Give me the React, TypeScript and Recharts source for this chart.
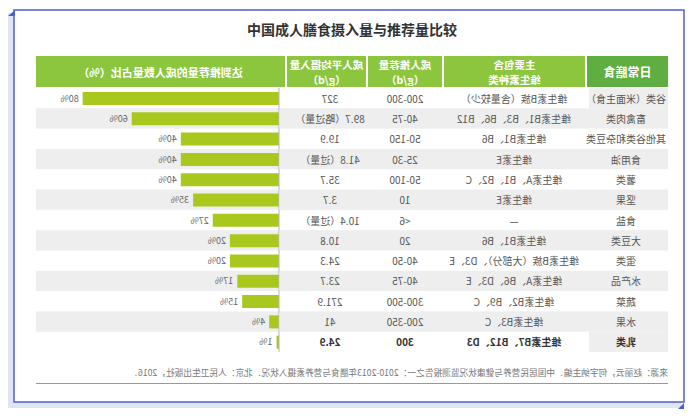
import React from 'react';
import { BarChart, Bar, XAxis, YAxis, ReferenceArea, LabelList } from 'recharts';

const foods = ['谷类（米面主食）', '畜禽肉类', '其他谷类和杂豆类', '食用油', '薯类', '坚果', '食盐', '大豆类', '蛋类', '水产品', '蔬菜', '水果', '乳类'];
const vitamins = ['维生素B族（含量较少）', '维生素B1、B3、B6、B12', '维生素B1、B6', '维生素E', '维生素A、B1、B2、C', '维生素E', '—', '维生素B1、B6', '维生素B族（大部分）、D3、E', '维生素A、B6、D3、E', '维生素B2、B9、C', '维生素B3、C', '维生素B7、B12、D3'];
const recommended = ['200-300', '40-75', '50-150', '25-30', '50-100', '10', '<6', '20', '40-50', '40-75', '300-500', '200-350', '300'];
const intake = ['327', '89.7（略过量）', '19.9', '41.8（过量）', '35.7', '3.7', '10.4（过量）', '10.8', '24.3', '23.7', '271.9', '41', '24.9'];
const shares = [80, 60, 40, 40, 40, 35, 27, 20, 20, 17, 15, 4, 1];

const headers = ['日常膳食', '主要包含|维生素种类', '成人推荐量|（g/d）', '成人平均摄入量|（g/d）', '达到推荐量的成人数量占比（%）'];
const title = '中国成人膳食摄入量与推荐量比较';
const source = '来源：赵丽云，何宇纳主编．中国居民营养与健康状况监测报告之一：2010-2013年膳食与营养素摄入状况．北京：人民卫生出版社，2016．';

const data = foods.map((f, i) => ({ food: f, share: shares[i] }));

const FONT = '"Noto Sans CJK SC", "Noto Sans", sans-serif';
const GRAY = '#eeeeee';
const CHART_W = 632;
const CHART_H = 264;
const AXIS_W = 389;
const ROW_H = CHART_H / foods.length;
const COLS = [42, 154, 263, 338];

const RowTick = (props: any) => {
  const { y, payload } = props;
  const i = foods.indexOf(payload.value);
  const gray = i % 2 === 1;
  const firstGray = i === 0 || i === foods.length - 1;
  const bold = i === foods.length - 1;
  const cells = [foods[i], vitamins[i], recommended[i], intake[i]];
  return (
    <g>
      {gray && <rect x={0} y={y - ROW_H / 2} width={AXIS_W - 0.5} height={ROW_H} fill={GRAY} />}
      {!gray && firstGray && <rect x={0} y={y - ROW_H / 2} width={79} height={ROW_H} fill={GRAY} />}
      {cells.map((c, k) => (
        <text
          key={k}
          x={COLS[k]}
          y={y}
          textAnchor="middle"
          dominantBaseline="central"
          fontSize={10}
          fontFamily={FONT}
          fontWeight={bold ? 'bold' : 'normal'}
          fill={bold ? '#333' : '#555'}
        >
          {c}
        </text>
      ))}
    </g>
  );
};

const headerCells = [
  { x: 28, w: 81, fill: '#5fae42' },
  { x: 111, w: 141, fill: '#8cc63f' },
  { x: 254, w: 74, fill: '#8cc63f' },
  { x: 330, w: 79, fill: '#8cc63f' },
  { x: 411, w: 249, fill: '#8cc63f' },
];

export default function App() {
  return (
    <div style={{ position: 'absolute', left: 0, top: 0, width: 696, height: 419, background: '#fff', overflow: 'hidden' }}>
      <div style={{ position: 'absolute', left: 0, top: 0, width: 696, height: 419, transform: 'scaleX(-1)' }}>
        <svg width={696} height={419} style={{ position: 'absolute', left: 0, top: 0 }}>
          <rect x={682} y={13} width={6} height={395} fill="#dfe5f7" />
          <rect x={15} y={402} width={673} height={6} fill="#dfe5f7" />
          <rect x={12} y={10} width={670} height={392} fill="#fff" stroke="#4d5fcf" strokeWidth={1.5} />
          <polygon points="681,10 688,16 681,16" fill="#4d5fcf" />
          <polygon points="12,403 18,409 12,409" fill="#4d5fcf" />
          {headerCells.map((h, k) => {
            const lines = headers[k].split('|');
            return (
              <g key={k}>
                <rect x={h.x} y={56} width={h.w} height={31} fill={h.fill} />
                {lines.map((ln, j) => (
                  <text
                    key={j}
                    x={h.x + h.w / 2}
                    y={71.5 + (j - (lines.length - 1) / 2) * 15}
                    textAnchor="middle"
                    dominantBaseline="central"
                    fontSize={lines.length > 1 ? 10.5 : k === 0 ? 12 : 11}
                    fontWeight="bold"
                    fontFamily={FONT}
                    fill="#fff"
                  >
                    {ln}
                  </text>
                ))}
              </g>
            );
          })}
          <text x={28} y={372} dominantBaseline="central" fontSize={8.7} fontFamily={FONT} fill="#777">
            {source}
          </text>
          <line x1={28} x2={660} y1={383.5} y2={383.5} stroke="#999" strokeWidth={1} />
        </svg>
        <div style={{ position: 'absolute', left: 28, top: 88 }}>
          <BarChart width={CHART_W} height={CHART_H} data={data} layout="vertical" margin={{ top: 0, right: 0, bottom: 0, left: 0 }}>
            <XAxis type="number" domain={[0, 99]} hide />
            <YAxis
              type="category"
              dataKey="food"
              width={AXIS_W}
              interval={0}
              tickLine={false}
              axisLine={{ stroke: '#b5b5b5' }}
              tick={RowTick}
            />
            {foods.map((f, i) =>
              i % 2 === 1 ? (
                <ReferenceArea key={f} y1={f} y2={f} x1={0} x2={99} fill={GRAY} fillOpacity={1} stroke="none" ifOverflow="visible" />
              ) : null
            )}
            <Bar dataKey="share" fill="#a8c81e" barSize={13} isAnimationActive={false}>
              <LabelList
                dataKey="share"
                position="right"
                offset={4}
                formatter={(v: any) => `${v}%`}
                style={{ fontSize: 9, fontFamily: FONT, fill: '#666' }}
              />
            </Bar>
          </BarChart>
        </div>
      </div>
      <div
        style={{
          position: 'absolute',
          left: 152,
          top: 19,
          width: 400,
          textAlign: 'center',
          fontFamily: FONT,
          fontSize: 14,
          fontWeight: 'bold',
          color: '#333',
          lineHeight: '20px',
        }}
      >
        {title}
      </div>
    </div>
  );
}
